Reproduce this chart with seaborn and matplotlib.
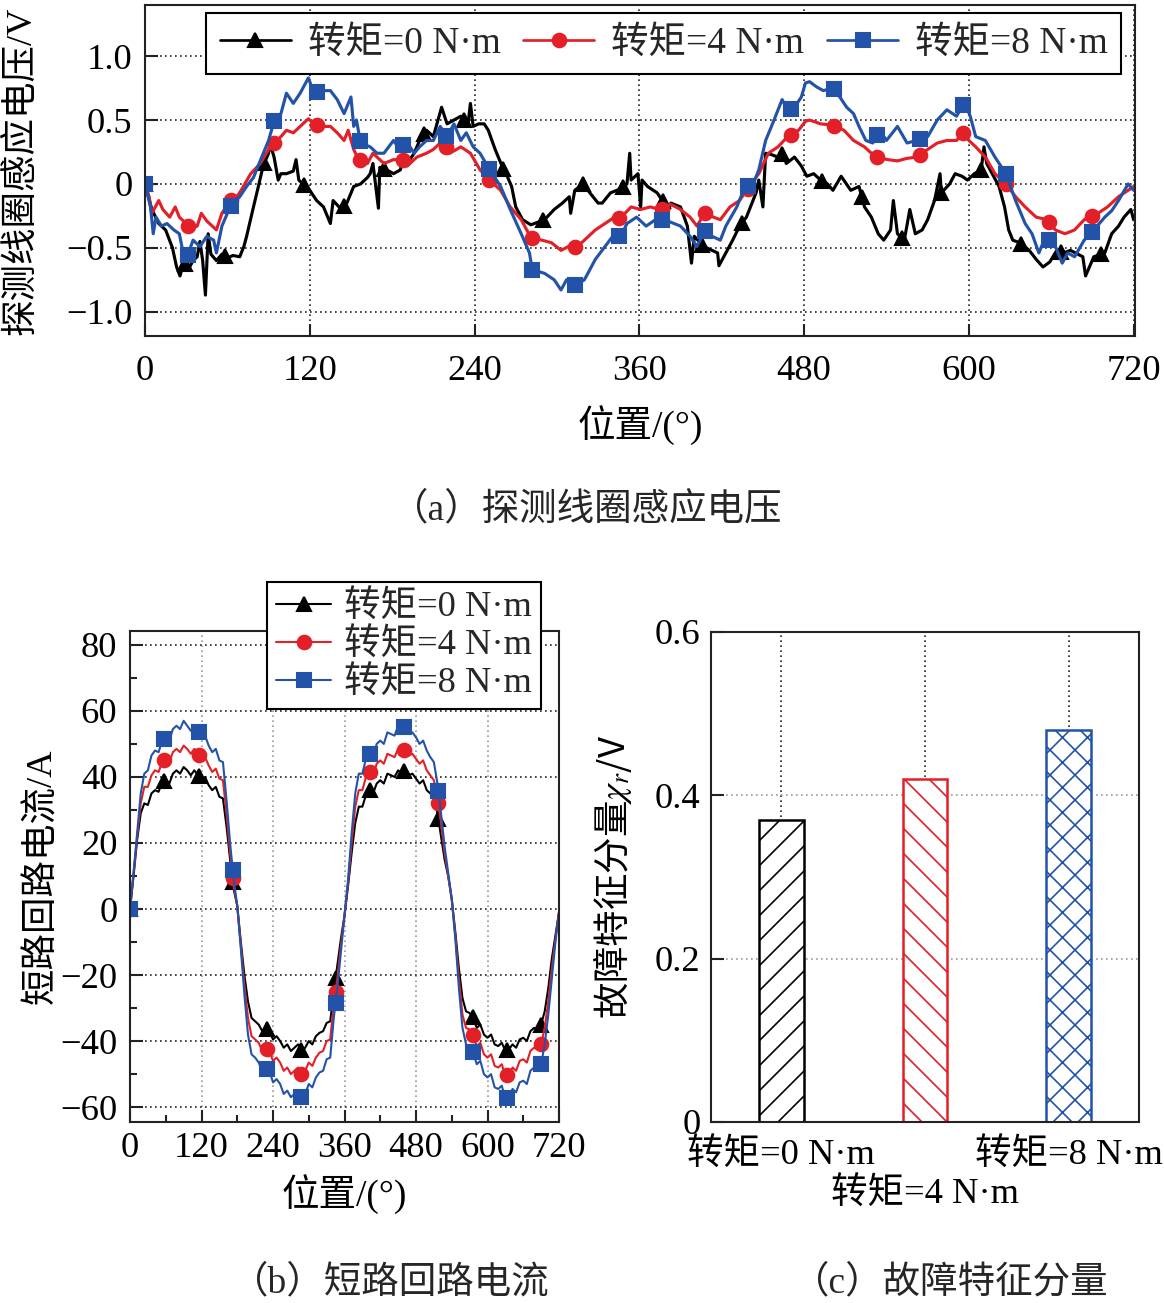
import numpy as np
import pandas as pd
import matplotlib
matplotlib.use('Agg')
import matplotlib.pyplot as plt
import seaborn as sns
from matplotlib.lines import Line2D
from matplotlib.ticker import FixedLocator, MultipleLocator

sns.set_theme(style='white')
plt.rcParams['font.family'] = ['Liberation Serif', 'Noto Sans CJK SC']
plt.rcParams['mathtext.fontset'] = 'stix'
plt.rcParams['axes.unicode_minus'] = True
plt.rcParams['hatch.linewidth'] = 0.8

# ---------------- data ----------------
series_labels = ['转矩=0 N·m', '转矩=4 N·m', '转矩=8 N·m']
series_colors = ['#000000', '#e31f27', '#2353a8']
series_markers = ['^', 'o', 's']

# (a) search-coil induced voltage, (position deg, voltage V)
volt_0Nm = [(0, 0), (5, -0.2), (10, -0.31), (15, -0.36), (20, -0.5), (23, -0.65), (25.5, -0.72), (28, -0.62),
            (32, -0.66), (35, -0.6), (38, -0.57), (40, -0.45), (42, -0.6), (44, -0.87), (46, -0.39), (48, -0.55),
            (52, -0.6), (56, -0.55), (60, -0.58), (64, -0.56), (69, -0.57), (72, -0.49), (74, -0.41), (79, -0.18),
            (83, 0), (86, 0.14), (90, 0.24), (91, 0.32), (94, 0.21), (97, 0.03), (99, 0.08), (103, 0.08),
            (108, 0.1), (110, 0.19), (112, 0.03), (115, 0.0), (120, -0.05), (125, -0.13), (130, -0.18),
            (135, -0.31), (137, -0.13), (143, -0.2), (147, -0.15), (152, -0.02), (157, 0), (162, 0.05),
            (164, 0.08), (166, 0.16), (170, -0.19), (171, 0.13), (176, 0.11), (181, 0.08), (186, 0.11),
            (188, 0.21), (191, 0.16), (196, 0.24), (200, 0.34), (205, 0.42), (210, 0.37), (216, 0.6),
            (220, 0.47), (225, 0.5), (230, 0.53), (235, 0.45), (237, 0.63), (239, 0.45), (243, 0.47),
            (247, 0.47), (250, 0.42), (255, 0.27), (260, 0.14), (263, 0.08), (267, -0.02), (270, -0.18),
            (275, -0.28), (281, -0.32), (286, -0.3), (291, -0.28), (298, -0.2), (304, -0.15), (309, -0.1),
            (310, -0.23), (313, -0.05), (319, 0), (324, -0.07), (330, -0.15), (333, -0.15), (339, -0.07),
            (346, -0.04), (351, 0), (353, 0.24), (354, 0.03), (359, 0.08), (361, -0.18), (362, 0.03),
            (366, -0.02), (373, -0.07), (378, -0.15), (379, -0.28), (383, -0.15), (390, -0.18), (395, -0.33),
            (398, -0.62), (400, -0.41), (407, -0.49), (411, -0.51), (417, -0.54), (418, -0.64), (423, -0.54),
            (428, -0.44), (433, -0.33), (438, -0.26), (445, -0.07), (447, 0.03), (450, -0.18), (452, 0.24),
            (456, 0.23), (461, 0.21), (465, 0.24), (467, 0.16), (473, 0.21), (478, 0.14), (482, 0.06),
            (487, 0.08), (492, 0.03), (497, 0), (501, -0.05), (507, 0.06), (514, -0.05), (520, -0.02),
            (524, -0.18), (529, -0.26), (534, -0.39), (538, -0.44), (543, -0.36), (545, -0.13), (548, -0.39),
            (553, -0.44), (557, -0.2), (561, -0.39), (566, -0.36), (570, -0.28), (575, -0.13), (579, 0.08),
            (580, -0.07), (586, 0), (590, 0.08), (595, 0.06), (599, 0.03), (604, 0.08), (609, 0.11),
            (611, 0.29), (613, 0.16), (617, 0.08), (622, -0.02), (626, -0.18), (629, -0.36), (632, -0.44),
            (637, -0.46), (644, -0.52), (649, -0.59), (654, -0.65), (659, -0.61), (664, -0.52), (669, -0.54),
            (674, -0.52), (683, -0.57), (685, -0.72), (691, -0.57), (699, -0.54), (704, -0.39), (709, -0.33),
            (713, -0.26), (718, -0.2), (720, -0.28)]

volt_4Nm = [(0, 0), (3, -0.1), (5, -0.23), (10, -0.13), (13, -0.2), (18, -0.26), (22, -0.18), (25, -0.26),
            (30, -0.31), (33, -0.35), (38, -0.33), (41, -0.23), (45, -0.29), (49, -0.33), (52, -0.36),
            (56, -0.23), (62, -0.13), (67, -0.1), (70, -0.05), (77, 0.08), (84, 0.16), (90, 0.27), (94, 0.32),
            (99, 0.37), (103, 0.42), (108, 0.4), (113, 0.45), (119, 0.51), (123, 0.47), (130, 0.45),
            (135, 0.45), (140, 0.4), (145, 0.34), (148, 0.42), (152, 0.27), (155, 0.2), (162, 0.16),
            (166, 0.24), (174, 0.16), (181, 0.19), (188, 0.19), (191, 0.14), (198, 0.21), (205, 0.24),
            (210, 0.27), (217, 0.34), (222, 0.24), (230, 0.29), (237, 0.24), (244, 0.11), (251, 0.03),
            (259, -0.05), (266, -0.18), (274, -0.28), (281, -0.42), (289, -0.44), (296, -0.46), (303, -0.52),
            (310, -0.48), (314, -0.5), (320, -0.44), (328, -0.36), (335, -0.31), (342, -0.26), (346, -0.27),
            (354, -0.18), (361, -0.2), (368, -0.18), (375, -0.2), (383, -0.16), (390, -0.2), (397, -0.26),
            (402, -0.33), (408, -0.22), (414, -0.26), (419, -0.28), (426, -0.18), (433, -0.13), (440, -0.02),
            (447, 0.08), (454, 0.24), (461, 0.29), (468, 0.37), (476, 0.42), (481, 0.49), (484, 0.5),
            (492, 0.47), (501, 0.46), (509, 0.42), (516, 0.34), (524, 0.29), (532, 0.21), (541, 0.19),
            (548, 0.18), (555, 0.2), (562, 0.21), (570, 0.27), (577, 0.32), (584, 0.34), (591, 0.34),
            (596, 0.4), (600, 0.34), (605, 0.29), (612, 0.21), (619, 0.08), (627, 0), (634, -0.1),
            (641, -0.18), (649, -0.26), (657, -0.28), (663, -0.36), (670, -0.39), (677, -0.36), (684, -0.28),
            (688, -0.26), (694, -0.23), (701, -0.18), (709, -0.1), (716, -0.05), (720, -0.02)]

volt_8Nm = [(0, 0), (4, -0.18), (6, -0.39), (8, -0.26), (12, -0.33), (16, -0.31), (21, -0.36), (25, -0.39),
            (28, -0.55), (30, -0.6), (33, -0.5), (35, -0.44), (40, -0.49), (45, -0.41), (50, -0.44),
            (52, -0.54), (56, -0.33), (60, -0.23), (64, -0.15), (69, -0.1), (74, -0.02), (79, 0.05),
            (85, 0.21), (90, 0.34), (94, 0.49), (99, 0.55), (103, 0.71), (108, 0.63), (113, 0.71),
            (119, 0.83), (123, 0.71), (130, 0.73), (135, 0.73), (140, 0.66), (145, 0.55), (150, 0.68),
            (152, 0.45), (154, 0.5), (157, 0.32), (164, 0.29), (169, 0.24), (174, 0.24), (181, 0.34),
            (186, 0.26), (190, 0.34), (196, 0.24), (200, 0.29), (205, 0.34), (210, 0.34), (215, 0.45),
            (220, 0.37), (225, 0.47), (230, 0.34), (234, 0.4), (239, 0.29), (244, 0.24), (251, 0.11),
            (259, -0.02), (266, -0.2), (274, -0.39), (280, -0.54), (282, -0.67), (291, -0.7), (298, -0.75),
            (303, -0.83), (307, -0.75), (314, -0.79), (320, -0.75), (328, -0.59), (335, -0.49), (342, -0.39),
            (346, -0.42), (351, -0.31), (358, -0.26), (365, -0.33), (373, -0.27), (383, -0.3), (390, -0.33),
            (397, -0.41), (402, -0.49), (408, -0.36), (413, -0.41), (419, -0.44), (423, -0.33), (431, -0.18),
            (437, -0.02), (443, 0.0), (447, 0.11), (452, 0.34), (457, 0.47), (464, 0.66), (468, 0.58),
            (473, 0.6), (478, 0.68), (481, 0.79), (484, 0.8), (489, 0.76), (494, 0.73), (501, 0.75),
            (506, 0.68), (511, 0.6), (516, 0.55), (520, 0.45), (525, 0.34), (530, 0.32), (535, 0.42),
            (540, 0.34), (548, 0.45), (555, 0.32), (562, 0.34), (570, 0.37), (577, 0.5), (584, 0.58),
            (591, 0.53), (597, 0.64), (601, 0.53), (605, 0.37), (612, 0.34), (619, 0.21), (627, 0.08),
            (634, -0.13), (641, -0.31), (646, -0.39), (651, -0.54), (656, -0.41), (663, -0.49), (668, -0.62),
            (672, -0.54), (677, -0.57), (684, -0.44), (691, -0.36), (699, -0.26), (704, -0.21), (709, -0.13),
            (716, 0), (720, -0.05)]

volt_marker_step = [29.0, 31.35, 31.35]   # marker spacing (deg) of each curve

# (b) short-circuit loop current, sampled every 6 deg from 0 to 720
curr_step_deg = 6
curr_0Nm = [0, 10, 21, 29, 32, 31.5, 35, 36, 35.5, 38.5, 39, 38, 41, 42, 41, 43, 42, 40.5, 42, 40.5,
            39, 40, 37.5, 36, 37, 34, 33.5, 25, 15, 6, 1,
            -10, -20, -28, -33, -34, -35, -37, -36, -37, -39.5, -38.5, -40, -42, -41, -43, -42, -41, -43, -42,
            -40, -41, -38.5, -37.5, -37, -34.5, -34, -25, -17, -9, -2,
            7, 17, 26, 31, 31, 34.5, 36, 35, 38, 39, 38, 41, 40.5, 40, 42, 41, 42, 40.5, 41, 39.5,
            38, 39, 36, 35, 34, 29, 22, 15, 10, 3,
            -7, -18, -27, -31, -31.5, -33, -36, -35, -38, -39, -38, -41, -41.5, -40.5, -43, -42.5, -41, -42,
            -39.5, -39, -40, -37, -36, -36.5, -35, -31, -24, -15, -8, -1]
curr_4Nm = [0, 11, 22, 32, 37, 37, 40.5, 42, 41.5, 44.5, 45.5, 44.5, 47.5, 48.5, 47.5, 49.5, 48.5, 47, 48.5, 47,
            45, 46, 43.5, 41.5, 42.5, 39.5, 39, 29, 17, 7, 1,
            -11, -23, -33, -38.5, -39.5, -40.5, -43, -42, -43, -46, -45, -46.5, -49, -48, -50, -49, -48, -50, -49,
            -46.5, -47.5, -45, -43.5, -43, -40, -39.5, -29, -21, -11, -2,
            8, 20, 31, 36, 36, 40, 41.5, 40.5, 44, 45, 44, 47, 46.5, 46, 48.5, 47.5, 48.5, 46.5, 47, 45.5,
            44, 45, 42, 40.5, 39, 34, 26, 17, 10, 3,
            -8, -21, -32, -36, -36.5, -38.5, -41.5, -40.5, -44, -45, -44, -47.5, -48, -47, -50.5, -50, -48, -49,
            -46, -45.5, -46.5, -43, -42, -42.5, -41, -36, -28, -18, -9, -1]
curr_8Nm = [0, 11, 23, 35, 41, 42, 46.5, 48, 47.5, 51, 52, 51, 54.5, 55.5, 54.5, 57, 55.5, 54, 55.5, 54,
            51.5, 52.5, 49.5, 47.5, 48.5, 45, 44.5, 33, 20, 9, 1,
            -12, -26, -38, -44, -45, -46.5, -49, -48, -49, -52.5, -51.5, -53, -56, -55, -57, -56, -55, -57, -56,
            -53, -54, -51, -49.5, -49, -45.5, -45, -33, -24, -13, -2,
            9, 23, 35, 41, 41, 45.5, 47, 46, 50, 51, 50, 53.5, 53, 52.5, 55.5, 54.5, 55.5, 53, 53.5, 52,
            50, 51, 48, 46, 44.5, 38, 29, 19, 11, 3,
            -9, -24, -36, -41, -41.5, -43.5, -47, -46, -50, -51, -50, -54, -54.5, -53.5, -57.5, -57, -54.5, -55.5,
            -52.5, -52, -53, -49, -48, -48.5, -47, -41, -32, -21, -10, -1]
curr_marker_step = 57.5

# (c) fault characteristic component
bar_values = [0.37, 0.42, 0.48]
bar_hatches = ['//', '\\\\', 'xx']

# tick labels
a_xticks = [0, 120, 240, 360, 480, 600, 720]
a_yticks = [-1.0, -0.5, 0, 0.5, 1.0]
a_yticklabels = ['−1.0', '−0.5', '0', '0.5', '1.0']
b_yticks = [-60, -40, -20, 0, 20, 40, 60, 80]
b_yticklabels = ['−60', '−40', '−20', '0', '20', '40', '60', '80']
c_yticks = [0, 0.2, 0.4, 0.6]
c_yticklabels = ['0', '0.2', '0.4', '0.6']

FS = 17.5
W, H = 1164, 1303
fig = plt.figure(figsize=(W / 150, H / 150), dpi=150)


def frac(l, t, r, b):
    return [l / W, 1 - b / H, (r - l) / W, (b - t) / H]


ax_a = fig.add_axes(frac(145, 5, 1135, 336))
ax_b = fig.add_axes(frac(130, 631, 559, 1122))
ax_c = fig.add_axes(frac(711, 632, 1139, 1122))

dots = (0, (1, 2))


def style_axes(ax):
    for s in ax.spines.values():
        s.set_visible(True)
        s.set_color('#222222')
        s.set_linewidth(1.0)
    ax.set_facecolor('white')
    ax.set_axisbelow(True)
    ax.tick_params(which='major', direction='in', length=6, width=1.0, colors='#222222',
                   labelsize=FS, labelcolor='black', bottom=True, left=True, top=False, right=False)
    ax.tick_params(which='minor', direction='in', length=3.5, width=1.0, colors='#222222',
                   bottom=True, left=True, top=False, right=False)


# ---------------- (a) ----------------
volt_series = [volt_0Nm, volt_4Nm, volt_8Nm]
handles_a = []
for trace, lab, col, mk, step in zip(volt_series, series_labels, series_colors, series_markers, volt_marker_step):
    xs = np.array([p[0] for p in trace], dtype=float)
    ys = np.array([p[1] for p in trace], dtype=float)
    sns.lineplot(x=xs, y=ys, color=col, lw=1.5, sort=False, estimator=None, ax=ax_a)
    mx = np.arange(0, 720, step)
    ax_a.plot(mx, np.interp(mx, xs, ys), ls='none', marker=mk, ms=6.5, color=col, mec=col)
    handles_a.append(Line2D([0], [0], color=col, lw=1.3, marker=mk, ms=6.5))

style_axes(ax_a)
ax_a.set_xlim(0, 721)
ax_a.set_ylim(-1.19, 1.40)
ax_a.xaxis.set_major_locator(FixedLocator(a_xticks))
ax_a.yaxis.set_major_locator(FixedLocator(a_yticks))
ax_a.set_yticklabels(a_yticklabels)
ax_a.tick_params(axis='x', pad=9)
ax_a.tick_params(axis='y', pad=6)
ax_a.grid(True, which='major', color='#222222', ls=dots, lw=0.8)
ax_a.set_xlabel('位置/(°)', fontsize=18, color='black', va='center')
ax_a.xaxis.set_label_coords(0.5, -0.272)
ax_a.set_ylabel('探测线圈感应电压/V', fontsize=FS, color='black', va='center')
ax_a.yaxis.set_label_coords(-0.124, 0.5)
leg_a = ax_a.legend(handles_a, series_labels, loc='upper right', bbox_to_anchor=(0.986, 0.976),
                    borderaxespad=0, ncol=3, fontsize=18, frameon=True, fancybox=False,
                    edgecolor='black', framealpha=1, handlelength=1.9, handletextpad=0.45,
                    columnspacing=0.6, borderpad=0.35)
leg_a.get_frame().set_linewidth(1.0)

# ---------------- (b) ----------------
curr_series = [curr_0Nm, curr_4Nm, curr_8Nm]
curr_x = np.arange(0, 721, curr_step_deg)
handles_b = []
for ys, lab, col, mk in zip(curr_series, series_labels, series_colors, series_markers):
    ys = np.array(ys, dtype=float)
    sns.lineplot(x=curr_x, y=ys, color=col, lw=1.0, sort=False, estimator=None, ax=ax_b)
    mx = np.arange(0, 720, curr_marker_step)
    ax_b.plot(mx, np.interp(mx, curr_x, ys), ls='none', marker=mk, ms=6.5, color=col, mec=col)
    handles_b.append(Line2D([0], [0], color=col, lw=1.0, marker=mk, ms=6.5))

style_axes(ax_b)
ax_b.set_xlim(0, 720)
ax_b.set_ylim(-64.5, 84.2)
ax_b.xaxis.set_major_locator(FixedLocator(a_xticks))
ax_b.xaxis.set_minor_locator(MultipleLocator(60))
ax_b.yaxis.set_major_locator(FixedLocator(b_yticks))
ax_b.yaxis.set_minor_locator(MultipleLocator(10))
ax_b.set_yticklabels(b_yticklabels)
ax_b.tick_params(axis='x', pad=5)
ax_b.tick_params(axis='y', pad=6)
ax_b.grid(True, axis='x', which='major', color='#999999', ls=dots, lw=0.8)
ax_b.grid(True, axis='y', which='major', color='#222222', ls=dots, lw=0.8)
ax_b.set_xlabel('位置/(°)', fontsize=18, color='black', va='center')
ax_b.xaxis.set_label_coords(0.5, -0.148)
ax_b.set_ylabel('短路回路电流/A', fontsize=FS, color='black', va='center')
ax_b.yaxis.set_label_coords(-0.205, 0.5)
leg_b = ax_b.legend(handles_b, series_labels, loc='upper right', bbox_to_anchor=(0.958, 1.10),
                    borderaxespad=0, ncol=1, fontsize=FS, frameon=True, fancybox=False,
                    edgecolor='black', framealpha=1, handlelength=1.5, handletextpad=0.35,
                    labelspacing=0.1, borderpad=0.25)
leg_b.get_frame().set_linewidth(1.0)

# ---------------- (c) ----------------
df_c = pd.DataFrame({'cat': series_labels, 'val': bar_values})
sns.barplot(data=df_c, x='cat', y='val', hue='cat', palette=series_colors, width=0.31,
            saturation=1, legend=False, ax=ax_c)
for patch, col, hatch in zip(ax_c.patches, series_colors, bar_hatches):
    patch.set_facecolor('white')
    patch.set_edgecolor(col)
    patch.set_hatch(hatch)
    patch.set_linewidth(1.2)
    patch.set_zorder(2)

style_axes(ax_c)
ax_c.set_xlim(-0.49, 2.49)
ax_c.set_ylim(0, 0.6)
ax_c.yaxis.set_major_locator(FixedLocator(c_yticks))
ax_c.set_yticklabels(c_yticklabels)
ax_c.set_xticks([0, 1, 2])
ax_c.set_xticklabels(series_labels)
ax_c.tick_params(axis='x', bottom=False, pad=8)
ax_c.tick_params(axis='y', pad=5)
ax_c.xaxis.get_major_ticks()[1].set_pad(27)
ax_c.grid(True, axis='y', color='#999999', ls=dots, lw=0.8)
ax_c.grid(True, axis='x', color='#222222', ls=dots, lw=0.8)
ax_c.set_xlabel('')
ax_c.set_ylabel('故障特征分量$\\chi_r$/V', fontsize=FS, color='black', va='center',
                family='Noto Sans CJK SC')
ax_c.yaxis.set_label_coords(-0.231, 0.5)

# ---------------- captions ----------------
fig.text(587 / W, 1 - 510 / H, '（a）探测线圈感应电压', ha='center', va='center', fontsize=18)
fig.text(390 / W, 1 - 1283 / H, '（b）短路回路电流', ha='center', va='center', fontsize=18)
fig.text(950 / W, 1 - 1283 / H, '（c）故障特征分量', ha='center', va='center', fontsize=18)

fig.savefig('out.png', dpi=150, facecolor='white')
